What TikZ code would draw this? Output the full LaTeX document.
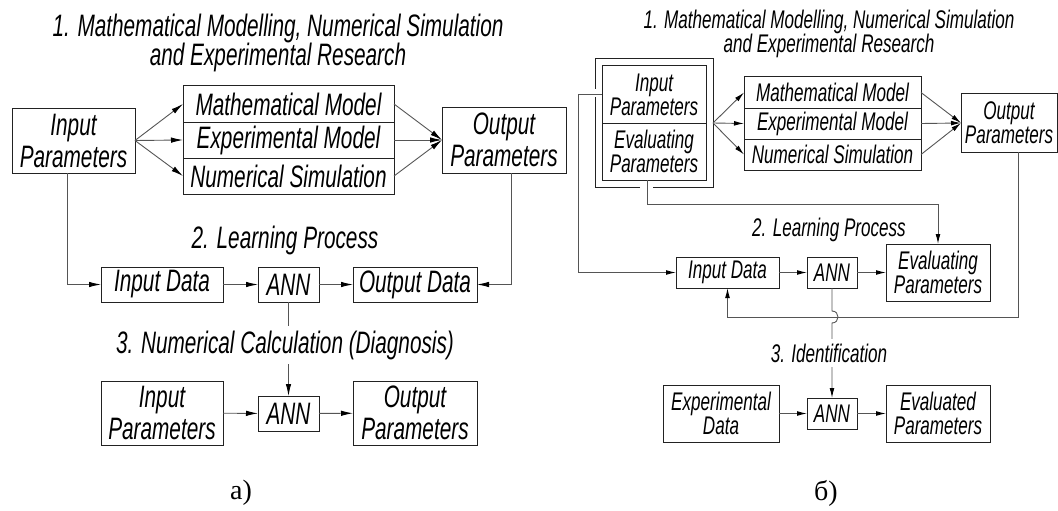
\documentclass[tikz,border=0pt]{standalone}
\usepackage{fontspec}
\newfontfamily\gostfont{Liberation Sans}[FakeStretch=0.67]
\newfontfamily\capfont{Liberation Serif}
\usetikzlibrary{arrows.meta,positioning,fit,calc}
\definecolor{linecol}{HTML}{555555}
\definecolor{boxcol}{HTML}{222222}
\newcommand{\bigtxt}{\gostfont\itshape\fontsize{31}{32}\selectfont}
\newcommand{\bigttl}{\gostfont\itshape\fontsize{31}{29}\selectfont}
\newcommand{\smalltxt}{\gostfont\itshape\fontsize{25.5}{24}\selectfont}

\begin{document}
\begin{tikzpicture}[x=1pt,y=-1pt,
  blk/.style={draw=boxcol, line width=1pt, align=center, inner sep=1.5pt, outer sep=0pt, font=\bigtxt},
  blkB/.style={blk, font=\smalltxt},
  rowA/.style={blk, minimum width=211pt, minimum height=36pt},
  rowB/.style={blkB, minimum width=177pt, minimum height=31pt},
  conn/.style={draw=linecol, line width=0.9pt},
  arrA/.style={conn, -{Latex[length=12pt,width=5.5pt,color=black]}},
  arrB/.style={conn, -{Latex[length=10pt,width=4.8pt,color=black]}},
  lbl/.style={anchor=base, inner sep=0pt},
  cut/.style={anchor=base, fill=white, inner sep=5pt}]
  \useasboundingbox (0,0) rectangle (1058,511);

  % a) left scheme
  \node[blk, minimum width=123pt, minimum height=65pt] (inA) at (73.5,140.5) {Input\\Parameters};
  \node[rowA] (mathA) at (288.5,104) {Mathematical Model};
  \node[rowA, below=0pt of mathA] (expA) {Experimental Model};
  \node[rowA, below=0pt of expA] (numA) {Numerical Simulation};
  \node[blk, minimum width=124pt, minimum height=66pt] (outA) at (504,140) {Output\\Parameters};
  \node[blk, minimum width=122pt, minimum height=35pt] (datA) at (162,284.5) {Input Data};
  \node[blk, minimum width=61pt, minimum height=35pt, right=35pt of datA] (annA) {ANN};
  \node[blk, minimum width=124pt, minimum height=35pt, right=34pt of annA] (odA) {Output Data};
  \node[blk, minimum width=122pt, minimum height=64pt] (in2A) at (162,413) {Input\\Parameters};
  \node[blk, minimum width=61pt, minimum height=35pt, below=94pt of annA] (ann2A) {ANN};
  \node[blk, minimum width=124pt, minimum height=64pt] (out2A) at (415,413) {Output\\Parameters};

  \draw[arrA] (inA.east) -- (mathA.west);
  \draw[arrA] (inA.east) -- (expA.west);
  \draw[arrA] (inA.east) -- (numA.west);
  \draw[arrA] (mathA.east) -- (outA.west);
  \draw[arrA] (expA.east) -- (outA.west);
  \draw[arrA] (numA.east) -- (outA.west);
  \draw[arrA] ([xshift=-6.5pt]inA.south) |- (datA.west);
  \draw[arrA] ([xshift=7pt]outA.south) |- (odA.east);
  \draw[arrA] (datA) -- (annA);
  \draw[arrA] (annA) -- (odA);
  \draw[arrA] (annA.south) -- (ann2A.north);
  \draw[arrA] (in2A) -- (ann2A);
  \draw[arrA] (ann2A) -- (out2A);

  \node[align=center, inner sep=0pt, font=\bigttl, anchor=north] (ttlA) at (278,13.5)
    {1. Mathematical Modelling, Numerical Simulation\\and Experimental Research};
  \node[lbl, font=\bigttl] (lrnA) at (285,248) {2. Learning Process};
  \node[cut, font=\bigttl] (calcA) at (285,353) {3. Numerical Calculation (Diagnosis)};

  % b) right scheme
  \node[blkB, minimum width=104pt, minimum height=57pt] (inB) at (654,94.5) {Input\\Parameters};
  \node[blkB, minimum width=104pt, minimum height=57pt, below=0pt of inB] (evB) {Evaluating\\Parameters};
  \node[fit=(inB)(evB), inner sep=7pt, outer sep=0pt] (frmB) {};
  \node[rowB] (mathB) at (832.5,92.5) {Mathematical Model};
  \node[rowB, below=0pt of mathB] (expB) {Experimental Model};
  \node[rowB, below=0pt of expB] (numB) {Numerical Simulation};
  \node[blkB, minimum width=96pt, minimum height=58pt] (outB) at (1009,123) {Output\\Parameters};
  \node[blkB, minimum width=103pt, minimum height=31pt] (datB) at (727.5,272.5) {Input Data};
  \node[blkB, minimum width=50pt, minimum height=31pt, right=28pt of datB] (annB) {ANN};
  \node[blkB, minimum width=104pt, minimum height=57pt, right=29pt of annB] (evpB) {Evaluating\\Parameters};
  \node[blkB, minimum width=116pt, minimum height=57pt] (exB) at (721,413.5) {Experimental\\Data};
  \node[blkB, minimum width=50pt, minimum height=31pt] (ann2B) at (832,413.5) {ANN};
  \node[blkB, minimum width=104pt, minimum height=57pt, right=29pt of ann2B] (edB) {Evaluated\\Parameters};

  \draw[draw=boxcol, line width=1pt] ($(frmB.north west)+(0,30)$) -- (frmB.north west)
    -- (frmB.north east) -- (frmB.south east) -- ($(frmB.south east)+(-60,0)$);
  \draw[draw=boxcol, line width=1pt] ($(frmB.south west)+(45,0)$) -- (frmB.south west)
    -- ($(frmB.south west)+(0,-90)$);

  \draw[arrB] (frmB.east) -- (mathB.west);
  \draw[arrB] (frmB.east) -- (expB.west);
  \draw[arrB] (frmB.east) -- (numB.west);
  \draw[arrB] (mathB.east) -- (outB.west);
  \draw[arrB] (expB.east) -- (outB.west);
  \draw[arrB] (numB.east) -- (outB.west);
  \draw[arrB] (inB.west) -- ++(-24,0) |- (datB.west);
  \draw[arrB] ([xshift=-7pt]evB.south) -- ++(0,24) -| (evpB.north);
  \draw[arrB] ([xshift=9pt]outB.south) -- ++(0,165) -| (datB.south);
  \draw[arrB] (datB) -- (annB);
  \draw[arrB] (annB) -- (evpB);
  \draw[arrB] (annB.south) -- ++(0,23) .. controls +(8,0) and +(8,0) .. ++(0,12) -- (ann2B.north);
  \draw[arrB] (exB) -- (ann2B);
  \draw[arrB] (ann2B) -- (edB);

  \node[align=center, inner sep=0pt, font=\smalltxt, anchor=north] (ttlB) at (829,9.5)
    {1. Mathematical Modelling, Numerical Simulation\\and Experimental Research};
  \node[lbl, font=\smalltxt] (lrnB) at (829,236) {2. Learning Process};
  \node[cut, font=\smalltxt] (idB) at (829,362) {3. Identification};

  % captions
  \node[font=\capfont\fontsize{28}{28}\selectfont] (capA) at (241,493) {а)};
  \node[font=\capfont\fontsize{28}{28}\selectfont] (capB) at (826,493) {б)};
\end{tikzpicture}
\end{document}
